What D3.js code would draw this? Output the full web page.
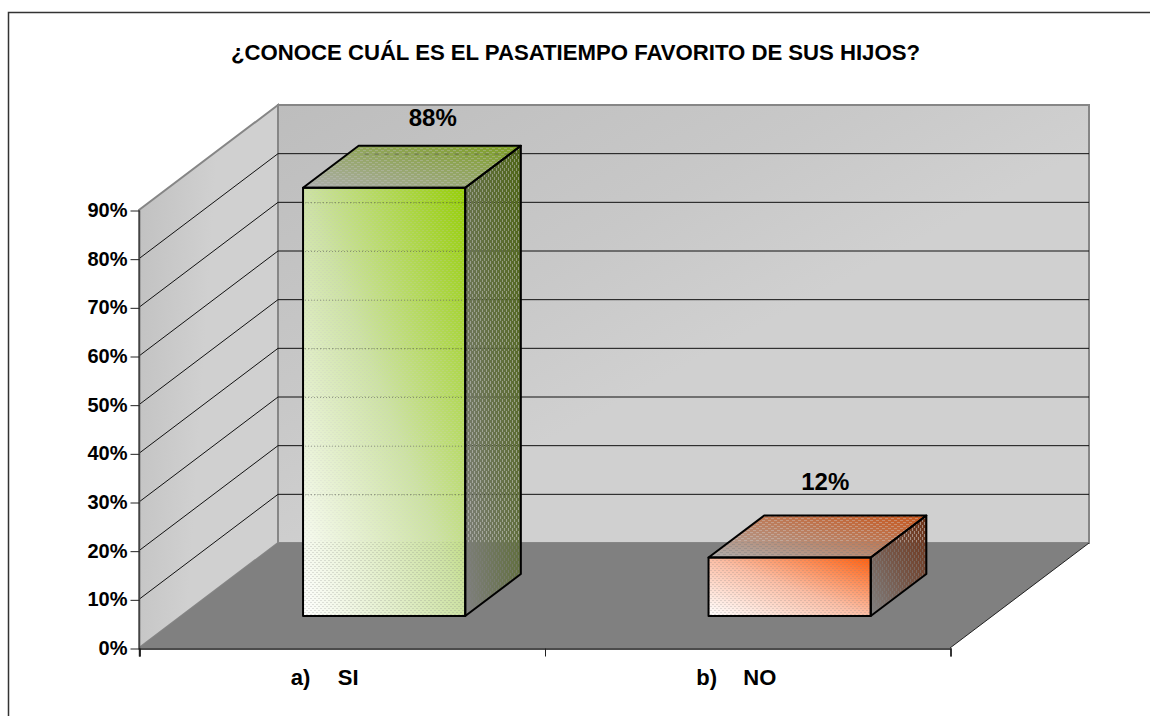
<!DOCTYPE html>
<html><head><meta charset="utf-8">
<script src="https://cdn.jsdelivr.net/npm/d3@7/dist/d3.min.js"></script>
<style>
html,body{margin:0;padding:0;background:#fff}
svg{display:block}
text{font-family:"Liberation Sans",Arial,sans-serif;font-weight:bold;fill:#000}
</style></head><body>
<svg id="c" width="1150" height="716"></svg>
<script>
const titleText = "¿CONOCE CUÁL ES EL PASATIEMPO FAVORITO DE SUS HIJOS?";
const categories = ["a)", "b)"];
const categoryNames = ["SI", "NO"];
const values = [0.88, 0.12];
const valueLabels = ["88%", "12%"];
const yTicks = [0, 0.1, 0.2, 0.3, 0.4, 0.5, 0.6, 0.7, 0.8, 0.9];
const faceColors = [
  {front:"#97cf08", mid:"#cde2a4", top:"#7c9f20", side:"#4e6516"},
  {front:"#ff5f0e", mid:"#fbbda4", top:"#c8551a", side:"#6e3216"}
];

const svg = d3.select("#c");
const defs = svg.append("defs");
const y = d3.scaleLinear().domain([0, 0.9]).range([648, 210]);
const x = d3.scaleBand().domain(categories).range([139, 950]);
const depthX = d3.scaleLinear().domain([0, 1]).range([0, 139]);
const depthY = d3.scaleLinear().domain([0, 1]).range([0, -105]);
const P = (px, v, z) => [px + depthX(z), y(v) + depthY(z)];
const poly = pts => "M" + pts.map(p => p.join(",")).join("L") + "Z";

function grad(id, stops, c) {
  const g = defs.append("linearGradient").attr("id", id)
    .attr("x1", c ? c[0] : 0).attr("y1", c ? c[1] : 1).attr("x2", c ? c[2] : 1).attr("y2", c ? c[3] : 0);
  stops.forEach(s => g.append("stop").attr("offset", s[0]).attr("stop-color", s[1]));
}
// screen-door textures of the original rendering: small see-through dashes
function door(id, w, h, dw, dh, shade) {
  const pat = defs.append("pattern").attr("id", id + "P").attr("patternUnits", "userSpaceOnUse").attr("width", w).attr("height", h);
  pat.append("rect").attr("width", w).attr("height", h).attr("fill", "#fff");
  pat.append("rect").attr("x", 0).attr("y", 0).attr("width", dw).attr("height", dh).attr("fill", shade);
  pat.append("rect").attr("x", w / 2).attr("y", h / 2).attr("width", dw).attr("height", dh).attr("fill", shade);
  defs.append("mask").attr("id", id).attr("maskUnits", "userSpaceOnUse")
    .attr("x", 0).attr("y", 0).attr("width", 1150).attr("height", 716)
    .append("rect").attr("width", 1150).attr("height", 716).attr("fill", "url(#" + id + "P)");
}
door("doorFront", 4, 4, 2, 1, "#c4c4c4");
door("doorTop", 6, 4, 3, 1, "#999");
door("doorSide", 4, 6, 1, 3, "#777");

grad("wallBack", [[0, "#bdbdbd"], [0.35, "#c8c8c8"], [0.55, "#d0d0d0"], [1, "#d0d0d0"]], [0, 0, 1, 1]);
grad("wallSide", [[0, "#c0c0c0"], [0.55, "#d0d0d0"], [1, "#d0d0d0"]], [0, 0, 1, 0.25]);
faceColors.forEach((c, i) => {
  grad("front" + i, [[0, "#ffffff"], [0.5, c.mid], [1, c.front]]);
  grad("top" + i, [[0, "#aeaeae"], [1, c.top]]);
  grad("side" + i, [[0, "#808080"], [0.5, d3.interpolateRgb("#808080", c.side)(0.55)], [1, c.side]]);
});

// frame
svg.append("path").attr("d", "M8.5,716V12.5H1150").attr("fill", "none").attr("stroke", "#333").attr("stroke-width", 1.5);

// title
svg.append("text").attr("x", 575.5).attr("y", 60).attr("text-anchor", "middle").attr("font-size", 22.2)
  .attr("textLength", 689).attr("lengthAdjust", "spacing").text(titleText);

// walls and floor
const g = svg.append("g");
const X0 = x.range()[0], X1 = x.range()[1], V = y.domain()[1];
g.append("path").attr("d", poly([P(X0,0,1), P(X1,0,1), P(X1,V,1), P(X0,V,1)]))
  .attr("fill", "url(#wallBack)").attr("stroke", "#868686").attr("stroke-width", 2);
g.append("path").attr("d", poly([P(X0,0,0), P(X0,0,1), P(X0,V,1), P(X0,V,0)]))
  .attr("fill", "url(#wallSide)").attr("stroke", "#868686").attr("stroke-width", 2);
g.append("path").attr("d", poly([P(X0,0,0), P(X1,0,0), P(X1,0,1), P(X0,0,1)])).attr("fill", "#808080");
g.append("path").attr("d", "M" + P(X1,0,0) + "L" + P(X1,0,1)).attr("stroke", "#222").attr("stroke-width", 1).attr("fill", "none");

// gridlines
const grid = yTicks.filter(t => t > 0 && t < V);
g.selectAll(".gs").data(grid).join("path")
  .attr("d", t => "M" + P(X0,t,0) + "L" + P(X0,t,1) + "L" + P(X1,t,1))
  .attr("fill", "none").attr("stroke", "#111").attr("stroke-width", 1);

// axes
const yAxis = d3.axisLeft(y).tickValues(yTicks).tickFormat(d3.format(".0%")).tickSize(9).tickPadding(3);
const ya = svg.append("g").attr("transform", "translate(139.5,0.5)").call(yAxis);
ya.select(".domain").attr("d", "M0," + y(V) + "V" + (y(0) + 8)).attr("stroke", "#444").attr("stroke-width", 1.5);
ya.selectAll("line").attr("stroke", "#222");
ya.selectAll("text").attr("font-size", 20).attr("font-family", null).attr("dy", "0.3em");
const xAxis = d3.axisBottom(d3.scaleLinear().domain([0, categories.length]).range(x.range()))
  .ticks(categories.length).tickFormat("").tickSize(8).tickSizeOuter(8);
const xa = svg.append("g").attr("transform", "translate(0.5," + (y(0) + 0.5) + ")").call(xAxis);
xa.select(".domain").attr("stroke", "#111").attr("stroke-width", 1.5);
xa.selectAll("line").attr("stroke", "#222");

// bars
const bw = x.bandwidth() * 0.4, zF = 0.305, zB = 0.705;
const labelShift = [[-7, -20], [-20, -26]];
const bars = svg.append("g").selectAll("g").data(values).join("g");
bars.each(function(v, i) {
  const s = d3.select(this);
  const L = x(categories[i]) + x.bandwidth() * 0.3, R = L + bw;
  const front = poly([P(L,0,zF), P(R,0,zF), P(R,v,zF), P(L,v,zF)]);
  const top = poly([P(L,v,zF), P(R,v,zF), P(R,v,zB), P(L,v,zB)]);
  const side = poly([P(R,0,zF), P(R,0,zB), P(R,v,zB), P(R,v,zF)]);
  s.append("path").attr("d", top).attr("fill", "url(#top" + i + ")").attr("mask", "url(#doorTop)");
  s.append("path").attr("d", side).attr("fill", "url(#side" + i + ")").attr("mask", "url(#doorSide)");
  s.append("path").attr("d", front).attr("fill", "url(#front" + i + ")").attr("mask", "url(#doorFront)");
  // gridlines glimpsed through the box
  const [xl] = P(L,0,zF), [xr] = P(R,0,zF);
  grid.forEach(t => {
    const yy = y(t) + depthY(1) + 0.5;
    const yt = y(v) + depthY(zF), yb = y(0) + depthY(zF);
    if (yy > yt && yy < yb)
      s.append("line").attr("x1", xl + 2).attr("x2", xr - 1).attr("y1", yy).attr("y2", yy)
        .attr("stroke", "#555").attr("stroke-opacity", 0.55).attr("stroke-dasharray", "1,2");
    if (yy < yt && yy > y(v) + depthY(zB))
      s.append("line").attr("x1", P(L,v,zB)[0] + 6).attr("x2", P(R,v,zB)[0] - 4).attr("y1", yy).attr("y2", yy)
        .attr("stroke", "#444").attr("stroke-opacity", 0.5).attr("stroke-dasharray", "4,6");
  });
  [front, top, side].forEach(d => s.append("path").attr("d", d).attr("fill", "none")
    .attr("stroke", "#000").attr("stroke-width", 2).attr("stroke-linejoin", "round"));
  const pt = P((L + R) / 2, v, zB);
  s.append("text").attr("x", pt[0] + labelShift[i][0]).attr("y", pt[1] + labelShift[i][1])
    .attr("text-anchor", "middle").attr("font-size", 24).text(valueLabels[i]);
});

// category labels
const labels = svg.append("g").selectAll("text").data(categories).join("text")
  .attr("y", 685).attr("font-size", 22);
labels.each(function(c, i) {
  const cx = x(c) + x.bandwidth() / 2;
  d3.select(this).append("tspan").attr("x", cx - 51).text(c);
  d3.select(this).append("tspan").attr("x", cx - 4).text(categoryNames[i]);
});
</script>
</body></html>
